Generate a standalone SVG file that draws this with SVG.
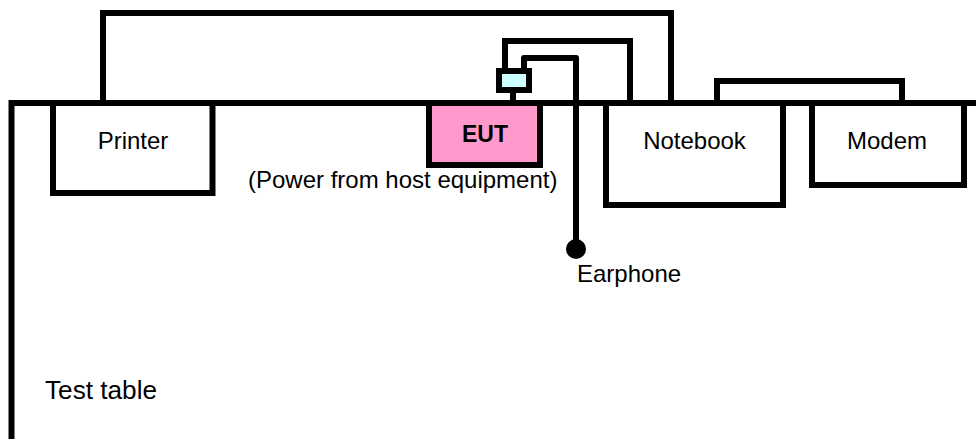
<svg xmlns="http://www.w3.org/2000/svg" width="976" height="439" viewBox="0 0 976 439">
<style>
.ln{fill:none;stroke:#000;stroke-width:6;stroke-linejoin:miter}
.bx{fill:#fff;stroke:#000;stroke-width:6}
.t{font-family:"Liberation Sans",Arial,sans-serif;font-size:24px;fill:#000}
</style>
<rect width="976" height="439" fill="#fff"/>
<g id="table">
<path class="ln" d="M11.5,439 V103 H976"/>
<text class="t" x="45" y="399" textLength="112" lengthAdjust="spacingAndGlyphs" style="font-size:25px">Test table</text>
</g>
<g id="connectors">
<path class="ln" d="M103,103 V13 H671 V103"/>
<path class="ln" d="M717,103 V81 H902 V103"/>
<path class="ln" d="M513,103 V90"/>
<path class="ln" d="M505,71 V41 H630 V103"/>
<path class="ln" style="stroke-linejoin:round" d="M524,71 V58 H576 V249"/>
</g>
<g id="printer">
<rect class="bx" x="53" y="103" width="159.5" height="90"/>
<text class="t" x="133" y="149" text-anchor="middle">Printer</text>
</g>
<g id="eut">
<rect class="bx" x="429" y="103" width="111" height="62" style="fill:#ff99cc"/>
<text class="t" x="485" y="142" text-anchor="middle" style="font-weight:bold;font-size:23px">EUT</text>
<text class="t" x="248" y="188">(Power from host equipment)</text>
</g>
<g id="connector">
<rect class="bx" x="499" y="71" width="30" height="19" style="fill:#ccffff"/>
</g>
<g id="notebook">
<rect class="bx" x="606" y="103" width="177" height="102"/>
<text class="t" x="694.5" y="149" text-anchor="middle">Notebook</text>
</g>
<g id="modem">
<rect class="bx" x="812" y="103" width="152" height="82"/>
<text class="t" x="887" y="149" text-anchor="middle">Modem</text>
</g>
<g id="earphone">
<circle cx="576" cy="249" r="10" fill="#000"/>
<text class="t" x="577" y="282">Earphone</text>
</g>
</svg>
